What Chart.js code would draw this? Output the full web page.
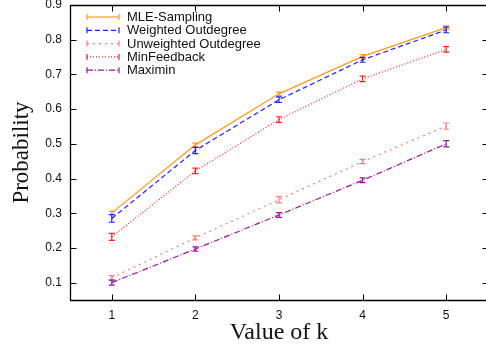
<!DOCTYPE html>
<html><head><meta charset="utf-8">
<script src="https://cdn.jsdelivr.net/npm/chart.js@4/dist/chart.umd.min.js"></script>
<style>html,body{margin:0;padding:0;background:#fff;overflow:hidden;width:486px;height:350px}canvas{display:block}</style>
</head><body>
<canvas id="c" width="489" height="350" style="width:489px;height:350px"></canvas>
<script>
const kValues = [1, 2, 3, 4, 5];
const xTickValues = [1, 2, 3, 4, 5];
const yTickValues = [0.1, 0.2, 0.3, 0.4, 0.5, 0.6, 0.7, 0.8, 0.9];
const seriesNames = ["MLE-Sampling", "Weighted Outdegree", "Unweighted Outdegree", "MinFeedback", "Maximin"];
const mleSampling = [0.301, 0.497, 0.644, 0.752, 0.835];
const mleErr = [0.005, 0.005, 0.005, 0.005, 0.005];
const weightedOutdegree = [0.285, 0.481, 0.627, 0.742, 0.828];
const weightedErr = [0.011, 0.009, 0.008, 0.007, 0.008];
const unweightedOutdegree = [0.114, 0.229, 0.339, 0.449, 0.551];
const unweightedErr = [0.006, 0.006, 0.009, 0.006, 0.009];
const minFeedback = [0.232, 0.422, 0.570, 0.687, 0.772];
const minFeedbackErr = [0.010, 0.008, 0.008, 0.008, 0.008];
const maximin = [0.100, 0.197, 0.295, 0.395, 0.500];
const maximinErr = [0.007, 0.006, 0.007, 0.007, 0.009];

const colors = ["#ff9a1f", "#1f1fff", "#f08080", "#ff2020", "#99139f"];
const dashes = [[], [5, 3], [2, 4], [1, 2], [6, 2, 1, 2]];
const values = [mleSampling, weightedOutdegree, unweightedOutdegree, minFeedback, maximin];
const errs = [mleErr, weightedErr, unweightedErr, minFeedbackErr, maximinErr];

const datasets = seriesNames.map((n, i) => ({
  label: n,
  data: kValues.map((k, j) => ({x: k, y: values[i][j]})),
  errs: errs[i],
  borderColor: colors[i],
  backgroundColor: colors[i],
  borderWidth: 1.2,
  borderDash: dashes[i],
  pointRadius: 0,
  fill: false,
  tension: 0
}));

const framePlugin = {
  id: 'frame',
  afterDraw(chart) {
    const ctx = chart.ctx, a = chart.chartArea;
    const xs = chart.scales.x, ys = chart.scales.y;
    ctx.save();
    ctx.setLineDash([]);
    // error bars
    chart.data.datasets.forEach(ds => {
      ctx.strokeStyle = ds.borderColor;
      ctx.lineWidth = 1.2;
      ds.data.forEach((p, j) => {
        const px = xs.getPixelForValue(p.x);
        const y1 = ys.getPixelForValue(p.y - ds.errs[j]);
        const y2 = ys.getPixelForValue(p.y + ds.errs[j]);
        ctx.beginPath();
        ctx.moveTo(px, y1); ctx.lineTo(px, y2);
        ctx.moveTo(px - 3, y1); ctx.lineTo(px + 3, y1);
        ctx.moveTo(px - 3, y2); ctx.lineTo(px + 3, y2);
        ctx.stroke();
      });
    });
    // frame
    const L = Math.round(a.left) + 0.5, R = Math.round(a.right) + 0.5;
    const T = Math.round(a.top) + 0.5, B = Math.round(a.bottom) + 0.5;
    ctx.strokeStyle = '#000000';
    ctx.lineWidth = 1.3;
    ctx.beginPath();
    ctx.moveTo(L, T); ctx.lineTo(R, T); ctx.lineTo(R, B); ctx.lineTo(L, B); ctx.closePath();
    ctx.stroke();
    ctx.lineWidth = 1;
    ctx.beginPath();
    xTickValues.forEach(v => {
      const px = Math.round(xs.getPixelForValue(v)) + 0.5;
      ctx.moveTo(px, B); ctx.lineTo(px, B - 6);
      ctx.moveTo(px, T); ctx.lineTo(px, T + 6);
    });
    yTickValues.forEach(v => {
      const py = Math.round(ys.getPixelForValue(v)) + 0.5;
      ctx.moveTo(L, py); ctx.lineTo(L + 6, py);
      ctx.moveTo(R, py); ctx.lineTo(R - 6, py);
    });
    ctx.stroke();
    // legend
    ctx.font = '13px "Liberation Sans", Arial, sans-serif';
    ctx.textBaseline = 'middle';
    ctx.textAlign = 'left';
    chart.data.datasets.forEach((ds, i) => {
      const y = 17 + i * 13.3;
      const x0 = 87, x1 = 119;
      ctx.strokeStyle = ds.borderColor;
      ctx.lineWidth = 1.2;
      ctx.setLineDash(dashes[i]);
      ctx.beginPath(); ctx.moveTo(x0, y); ctx.lineTo(x1, y); ctx.stroke();
      ctx.setLineDash([]);
      ctx.beginPath();
      ctx.moveTo(x0, y - 3); ctx.lineTo(x0, y + 3);
      ctx.moveTo(x1, y - 3); ctx.lineTo(x1, y + 3);
      ctx.stroke();
      ctx.fillStyle = '#111';
      ctx.fillText(ds.label, 127, y + 0.5);
    });
    ctx.restore();
  }
};

new Chart(document.getElementById('c'), {
  type: 'line',
  data: { datasets },
  options: {
    responsive: false,
    animation: false,
    layout: { padding: { top: 5, right: 1, left: 0, bottom: 0 } },
    plugins: { legend: { display: false }, tooltip: { enabled: false } },
    scales: {
      x: {
        type: 'linear', min: 0.5, max: 5.5,
        grid: { display: false, drawTicks: false },
        border: { display: false },
        afterBuildTicks(s) { s.ticks = xTickValues.map(v => ({value: v})); },
        afterFit(s) { s.height = 50; s.paddingLeft = 0; s.paddingRight = 0; },
        ticks: { color: '#111', padding: 8, font: { family: '"Liberation Sans", Arial, sans-serif', size: 12 } },
        title: { display: true, text: 'Value of k', color: '#111', padding: { top: 0, bottom: 3 },
          font: { family: '"Liberation Serif", "Times New Roman", serif', size: 24 } }
      },
      y: {
        type: 'linear', min: 0.05, max: 0.9,
        grid: { display: false, drawTicks: false },
        border: { display: false },
        afterBuildTicks(s) { s.ticks = yTickValues.map(v => ({value: v})); },
        afterFit(s) { s.width = 70; s.paddingTop = 0; s.paddingBottom = 0; },
        ticks: { color: '#111', padding: 8, font: { family: '"Liberation Sans", Arial, sans-serif', size: 12 },
          callback: v => v.toFixed(1) },
        title: { display: true, text: 'Probability', color: '#111', padding: { top: 8, bottom: 0 },
          font: { family: '"Liberation Serif", "Times New Roman", serif', size: 23 } }
      }
    }
  },
  plugins: [framePlugin]
});
</script>
</body></html>
